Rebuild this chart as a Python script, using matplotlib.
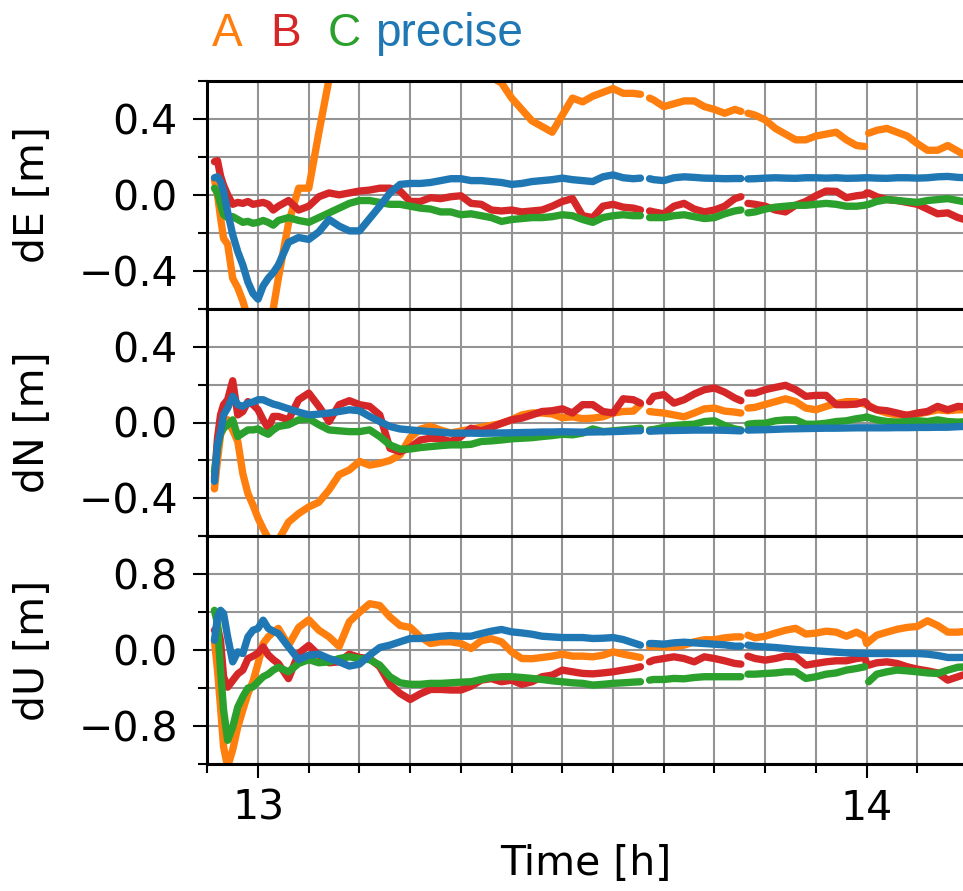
import numpy as np
import matplotlib
matplotlib.use("Agg")
import matplotlib.pyplot as plt
from matplotlib.ticker import MultipleLocator, FixedLocator

nan = np.nan

# time stamps in minutes after 12:00
minutes = [55.7, 56.0, 56.3, 56.6, 57.0, 57.5, 58.0, 58.5, 59.0, 59.5, 60.0, 60.5, 61.0, 61.5, 62.0,
           63, 64, 65, 66, 67, 68, 69, 70, 71, 72,
           73, 74, 75, 76, 77, 78, 79, 80, 81, 82,
           83, 84, 85, 86, 87, 88, 89, 90, 91, 92,
           93, 94, 95, 96, 97,
           97.7, 98.1, 98.6,
           99, 100, 101, 102, 103, 104, 105, 106, 107,
           107.6, 107.95, 108.3,
           109, 110, 111, 112, 113, 114, 115, 116, 117, 118, 119,
           119.8, 120.0, 120.2,
           121, 122, 123, 124, 125, 126, 127, 128, 129, 130]

series_names = ["A", "B", "C", "precise"]
series_colors = ["#ff7f0e", "#d62728", "#2ca02c", "#1f77b4"]
panel_labels = ["dE [m]", "dN [m]", "dU [m]"]

# ---------------- dE ----------------
A_dE = [0.08, 0.0, -0.12, -0.23, -0.26, -0.44, -0.49, -0.56, -0.65, -0.72, -0.75, -0.72, -0.66, -0.60, -0.44,
        -0.15, 0.035, 0.035, 0.33, 0.61, 0.85, 1.0, 1.1, 1.15, 1.15,
        1.1, 1.05, 1.0, 0.95, 0.9, 0.85, 0.8, 0.75, 0.7, 0.66,
        0.62, 0.59, 0.51, 0.45, 0.39, 0.36, 0.33, 0.42, 0.51, 0.49,
        0.52, 0.54, 0.56, 0.535, 0.535,
        0.53, nan, 0.51,
        0.5, 0.465, 0.48, 0.495, 0.495, 0.465, 0.45, 0.43, 0.45,
        0.44, nan, 0.43,
        0.42, 0.395, 0.35, 0.32, 0.29, 0.29, 0.31, 0.32, 0.33, 0.29, 0.26,
        0.255, nan, 0.325,
        0.34, 0.35, 0.33, 0.31, 0.27, 0.235, 0.235, 0.26, 0.23, 0.2]
B_dE = [0.175, 0.18, 0.10, 0.05, 0.0, -0.05, -0.04, -0.045, -0.035, -0.05, -0.045, -0.04, -0.05, -0.08, -0.06,
        -0.03, -0.08, -0.06, -0.01, 0.01, 0.0, 0.01, 0.02, 0.025, 0.035,
        0.035, 0.02, -0.035, -0.035, -0.015, -0.02, -0.01, -0.005, -0.045, -0.05,
        -0.08, -0.085, -0.08, -0.09, -0.085, -0.08, -0.06, -0.035, -0.02, -0.11,
        -0.12, -0.06, -0.05, -0.065, -0.07,
        -0.08, nan, -0.085,
        -0.09, -0.1, -0.06, -0.045, -0.075, -0.09, -0.08, -0.06, -0.02,
        -0.01, nan, -0.045,
        -0.05, -0.06, -0.08, -0.09, -0.055, -0.035, -0.005, 0.02, 0.018, -0.015, -0.005,
        0.0, 0.01, 0.01,
        -0.01, -0.025, -0.03, -0.04, -0.05, -0.075, -0.1, -0.095, -0.12, -0.135]
C_dE = [0.035, 0.01, -0.05, -0.105, -0.12, -0.115, -0.13, -0.145, -0.14, -0.15, -0.145, -0.135, -0.145, -0.16, -0.135,
        -0.12, -0.135, -0.145, -0.12, -0.095, -0.07, -0.045, -0.03, -0.03, -0.04,
        -0.05, -0.05, -0.06, -0.07, -0.075, -0.09, -0.09, -0.105, -0.1, -0.11,
        -0.12, -0.14, -0.13, -0.125, -0.12, -0.12, -0.115, -0.105, -0.11, -0.13,
        -0.145, -0.12, -0.11, -0.105, -0.11,
        -0.11, nan, -0.12,
        -0.12, -0.12, -0.11, -0.105, -0.115, -0.125, -0.12, -0.1, -0.085,
        -0.08, nan, -0.095,
        -0.09, -0.075, -0.065, -0.06, -0.055, -0.055, -0.05, -0.045, -0.05, -0.06, -0.06,
        -0.055, -0.052, -0.05,
        -0.035, -0.025, -0.03, -0.035, -0.04, -0.03, -0.025, -0.02, -0.03, -0.04]
P_dE = [0.09, 0.095, 0.07, 0.02, -0.09, -0.21, -0.30, -0.37, -0.46, -0.52, -0.55, -0.48, -0.44, -0.41, -0.37,
        -0.25, -0.225, -0.235, -0.195, -0.13, -0.165, -0.19, -0.19, -0.125, -0.06,
        0.01, 0.055, 0.06, 0.06, 0.065, 0.075, 0.085, 0.085, 0.075, 0.075,
        0.07, 0.065, 0.055, 0.06, 0.07, 0.075, 0.08, 0.088, 0.08, 0.075,
        0.07, 0.095, 0.105, 0.09, 0.085,
        0.088, nan, 0.085,
        0.08, 0.075, 0.09, 0.095, 0.092, 0.088, 0.087, 0.085, 0.086,
        0.086, nan, 0.084,
        0.085, 0.088, 0.09, 0.088, 0.087, 0.09, 0.09, 0.088, 0.09, 0.087, 0.088,
        0.09, 0.09, 0.09,
        0.088, 0.087, 0.09, 0.09, 0.088, 0.09, 0.095, 0.097, 0.092, 0.09]

# ---------------- dN ----------------
A_dN = [-0.35, -0.20, -0.065, -0.03, 0.015, -0.04, -0.10, -0.27, -0.375, -0.435, -0.505, -0.56, -0.61, -0.65, -0.62,
        -0.525, -0.48, -0.445, -0.42, -0.355, -0.275, -0.25, -0.205, -0.225, -0.215,
        -0.2, -0.17, -0.08, -0.035, -0.02, -0.04, -0.055, -0.045, -0.035, -0.025,
        -0.015, -0.005, 0.015, 0.04, 0.05, 0.05, 0.045, 0.025, 0.03, 0.02,
        0.023, 0.03, 0.05, 0.058, 0.06,
        0.095, nan, 0.058,
        0.055, 0.05, 0.04, 0.03, 0.05, 0.072, 0.076, 0.06, 0.055,
        0.05, nan, 0.076,
        0.08, 0.095, 0.11, 0.125, 0.11, 0.076, 0.067, 0.085, 0.1, 0.11, 0.11,
        0.097, 0.094, 0.09,
        0.067, 0.05, 0.04, 0.04, 0.045, 0.055, 0.067, 0.062, 0.067, 0.067]
B_dN = [-0.295, -0.083, 0.04, 0.094, 0.12, 0.22, 0.04, 0.058, 0.11, 0.094, 0.067, 0.014, -0.03, 0.032, 0.032,
        0.014, 0.12, 0.155, 0.085, 0.005, 0.094, 0.115, 0.094, 0.085, 0.04,
        -0.136, -0.154, -0.132, -0.092, -0.083, -0.086, -0.1, -0.074, -0.03, -0.044,
        -0.026, -0.004, 0.014, 0.023, 0.04, 0.058, 0.062, 0.072, 0.05, 0.094,
        0.094, 0.058, 0.05, 0.125, 0.12,
        0.102, nan, 0.11,
        0.138, 0.147, 0.102, 0.12, 0.15, 0.173, 0.182, 0.16, 0.129,
        0.115, nan, 0.155,
        0.155, 0.173, 0.185, 0.196, 0.173, 0.138, 0.143, 0.143, 0.094, 0.094, 0.097,
        0.11, 0.102, 0.085,
        0.067, 0.062, 0.05, 0.037, 0.05, 0.058, 0.085, 0.067, 0.085, 0.08]
C_dN = [-0.26, -0.136, -0.056, -0.03, -0.012, 0.014, -0.074, -0.056, -0.039, -0.039, -0.034, -0.05, -0.062, -0.039, -0.021,
        -0.012, 0.014, 0.02, -0.012, -0.039, -0.044, -0.048, -0.048, -0.039, -0.074,
        -0.118, -0.14, -0.14, -0.132, -0.127, -0.122, -0.118, -0.118, -0.115, -0.1,
        -0.097, -0.092, -0.086, -0.083, -0.08, -0.074, -0.069, -0.062, -0.065, -0.056,
        -0.034, -0.048, -0.044, -0.039, -0.034,
        -0.03, nan, -0.039,
        -0.037, -0.026, -0.016, -0.012, -0.009, 0.005, 0.009, -0.016, -0.034,
        -0.039, nan, -0.009,
        -0.005, -0.004, 0.009, 0.014, 0.014, -0.009, -0.009, -0.004, 0.005, 0.009, 0.02,
        0.026, 0.03, 0.026,
        0.014, 0.005, 0.002, 0.005, 0.009, 0.005, 0.014, 0.005, 0.002, 0.005]
P_dN = [-0.31, -0.118, -0.048, 0.04, 0.076, 0.138, 0.094, 0.085, 0.102, 0.108, 0.12, 0.12, 0.108, 0.097, 0.09,
        0.072, 0.055, 0.04, 0.044, 0.05, 0.058, 0.067, 0.062, 0.032, 0.005,
        -0.021, -0.034, -0.039, -0.044, -0.048, -0.051, -0.056, -0.056, -0.056, -0.057,
        -0.056, -0.055, -0.054, -0.053, -0.052, -0.05, -0.05, -0.049, -0.05, -0.051,
        -0.05, -0.049, -0.048, -0.046, -0.044,
        -0.043, nan, -0.046,
        -0.045, -0.043, -0.042, -0.041, -0.04, -0.04, -0.04, -0.041, -0.043,
        -0.044, nan, -0.04,
        -0.039, -0.038, -0.036, -0.034, -0.033, -0.032, -0.031, -0.03, -0.03, -0.029, -0.028,
        -0.028, -0.028, -0.028,
        -0.028, -0.028, -0.027, -0.027, -0.026, -0.026, -0.025, -0.025, -0.022, -0.02]

# ---------------- dU ----------------
A_dU = [0.1, -0.21, -0.6, -1.02, -1.23, -1.05, -0.81, -0.63, -0.46, -0.33, -0.14, 0.07, 0.14, 0.19, 0.23,
        0.05, 0.24, 0.32, 0.21, 0.14, 0.04, 0.3, 0.4, 0.49, 0.47,
        0.35, 0.26, 0.24, 0.14, 0.07, 0.088, 0.088, 0.07, 0.018, 0.1,
        0.12, 0.088, -0.018, -0.088, -0.09, -0.077, -0.063, -0.042, -0.063, -0.063,
        -0.07, -0.053, -0.018, -0.042, -0.063,
        -0.077, nan, 0.035,
        0.042, 0.035, 0.035, 0.053, 0.088, 0.11, 0.11, 0.13, 0.14,
        0.14, nan, 0.158,
        0.13, 0.147, 0.18, 0.21, 0.23, 0.17, 0.18, 0.2, 0.19, 0.147, 0.19,
        0.147, 0.07, 0.088,
        0.158, 0.19, 0.22, 0.24, 0.25, 0.31, 0.26, 0.19, 0.19, 0.2]
B_dU = [0.21, 0.245, 0.1, -0.28, -0.39, -0.32, -0.25, -0.21, -0.09, -0.063, -0.03, 0.035, -0.05, -0.1, -0.14,
        -0.3, -0.035, 0.05, -0.053, -0.133, -0.123, -0.042, -0.077, -0.088, -0.175,
        -0.36, -0.456, -0.52, -0.46, -0.414, -0.414, -0.42, -0.42, -0.38, -0.316,
        -0.3, -0.333, -0.316, -0.36, -0.333, -0.28, -0.263, -0.21, -0.228, -0.245,
        -0.25, -0.24, -0.228, -0.21, -0.193,
        -0.175, nan, -0.123,
        -0.105, -0.088, -0.07, -0.088, -0.123, -0.07, -0.088, -0.112, -0.14,
        -0.147, nan, -0.063,
        -0.088, -0.105, -0.088, -0.063, -0.07, -0.158, -0.14, -0.123, -0.112, -0.112, -0.088,
        -0.077, -0.14, -0.158,
        -0.133, -0.123, -0.14, -0.175, -0.2, -0.218, -0.24, -0.316, -0.28, -0.245]
C_dU = [0.42, 0.28, -0.21, -0.63, -0.95, -0.81, -0.6, -0.49, -0.4, -0.386, -0.333, -0.28, -0.253, -0.21, -0.18,
        -0.228, -0.14, -0.1, -0.133, -0.123, -0.088, -0.07, -0.088, -0.1, -0.158,
        -0.28, -0.344, -0.36, -0.36, -0.35, -0.35, -0.344, -0.337, -0.333, -0.309,
        -0.288, -0.28, -0.28, -0.288, -0.298, -0.309, -0.323, -0.333, -0.344, -0.35,
        -0.368, -0.36, -0.35, -0.344, -0.337,
        -0.333, nan, -0.316,
        -0.309, -0.309, -0.298, -0.302, -0.288, -0.28, -0.28, -0.28, -0.28,
        -0.28, nan, -0.253,
        -0.253, -0.246, -0.24, -0.228, -0.228, -0.298, -0.28, -0.253, -0.24, -0.21, -0.193,
        -0.175, nan, -0.333,
        -0.253, -0.228, -0.21, -0.218, -0.228, -0.24, -0.246, -0.21, -0.18, -0.175]
P_dU = [0.105, 0.35, 0.42, 0.386, 0.14, -0.123, -0.018, -0.035, 0.14, 0.21, 0.23, 0.316, 0.23, 0.2, 0.175,
        0.035, -0.1, -0.053, -0.042, -0.088, -0.123, -0.168, -0.147, -0.053, 0.028,
        0.053, 0.088, 0.123, 0.123, 0.133, 0.147, 0.154, 0.147, 0.147, 0.175,
        0.2, 0.218, 0.193, 0.182, 0.168, 0.147, 0.14, 0.133, 0.133, 0.133,
        0.123, 0.126, 0.133, 0.112, 0.077,
        0.053, nan, 0.07,
        0.07, 0.063, 0.077, 0.084, 0.077, 0.07, 0.063, 0.056, 0.042,
        0.042, nan, 0.053,
        0.042, 0.035, 0.028, 0.018, 0.007, 0.0, -0.007, -0.014, -0.021, -0.028, -0.032,
        -0.035, -0.035, -0.035,
        -0.035, -0.035, -0.035, -0.035, -0.035, -0.042, -0.056, -0.077, -0.077, -0.077]

panels = [
    [A_dE, B_dE, C_dE, P_dE],
    [A_dN, B_dN, C_dN, P_dN],
    [A_dU, B_dU, C_dU, P_dU],
]
ylims = [(-0.6, 0.6), (-0.6, 0.6), (-1.2, 1.2)]
major_steps = [0.4, 0.4, 0.8]
x_major = [13, 14]
x_range = (12.9161, 14.160)

plt.rcParams["font.family"] = ["DejaVu Sans"]
plt.rcParams["font.size"] = 29.5

hours = np.array(minutes) / 60.0 + 12.0

fig = plt.figure(figsize=(9.63, 8.91), dpi=100)
axes = fig.subplots(3, 1, sharex=True, gridspec_kw=dict(hspace=0))
fig.subplots_adjust(left=207 / 963, right=964 / 963, top=1 - 81 / 891, bottom=1 - 764 / 891)

for ax, comps, lab, yl, step in zip(axes, panels, panel_labels, ylims, major_steps):
    for vals, name, col in zip(comps, series_names, series_colors):
        ax.plot(hours, np.array(vals, dtype=float), color=col, lw=5.3, label=name,
                solid_capstyle="round", solid_joinstyle="round")
    ax.set_ylim(*yl)
    ax.yaxis.set_major_locator(MultipleLocator(step))
    ax.yaxis.set_minor_locator(MultipleLocator(step / 2))
    ax.xaxis.set_major_locator(FixedLocator(x_major))
    ax.xaxis.set_minor_locator(MultipleLocator(1 / 12))
    ax.grid(which="both", color="0.58", lw=1.5)
    ax.set_axisbelow(True)
    ax.tick_params(which="major", length=10, width=1.5, pad=11)
    ax.tick_params(which="minor", length=6.5, width=1.5)
    ax.tick_params(axis="x", which="major", pad=8)
    for s in ax.spines.values():
        s.set_linewidth(2.2)
    ax.spines["right"].set_visible(False)
    ax.set_ylabel(lab)
    ax.yaxis.set_label_coords(-0.203, 0.5)

axes[-1].set_xlim(*x_range)
axes[-1].set_xlabel("Time [h]", labelpad=11)

# legend as coloured labels above the plot
legend_x = [212, 270, 328, 375]
for name, col, xp in zip(series_names, series_colors, legend_x):
    fig.text(xp / 963, 1 - 46 / 891, name, color=col, fontsize=33,
             family=["Liberation Sans", "DejaVu Sans"], ha="left", va="baseline")

fig.savefig("out.png", dpi=100)
